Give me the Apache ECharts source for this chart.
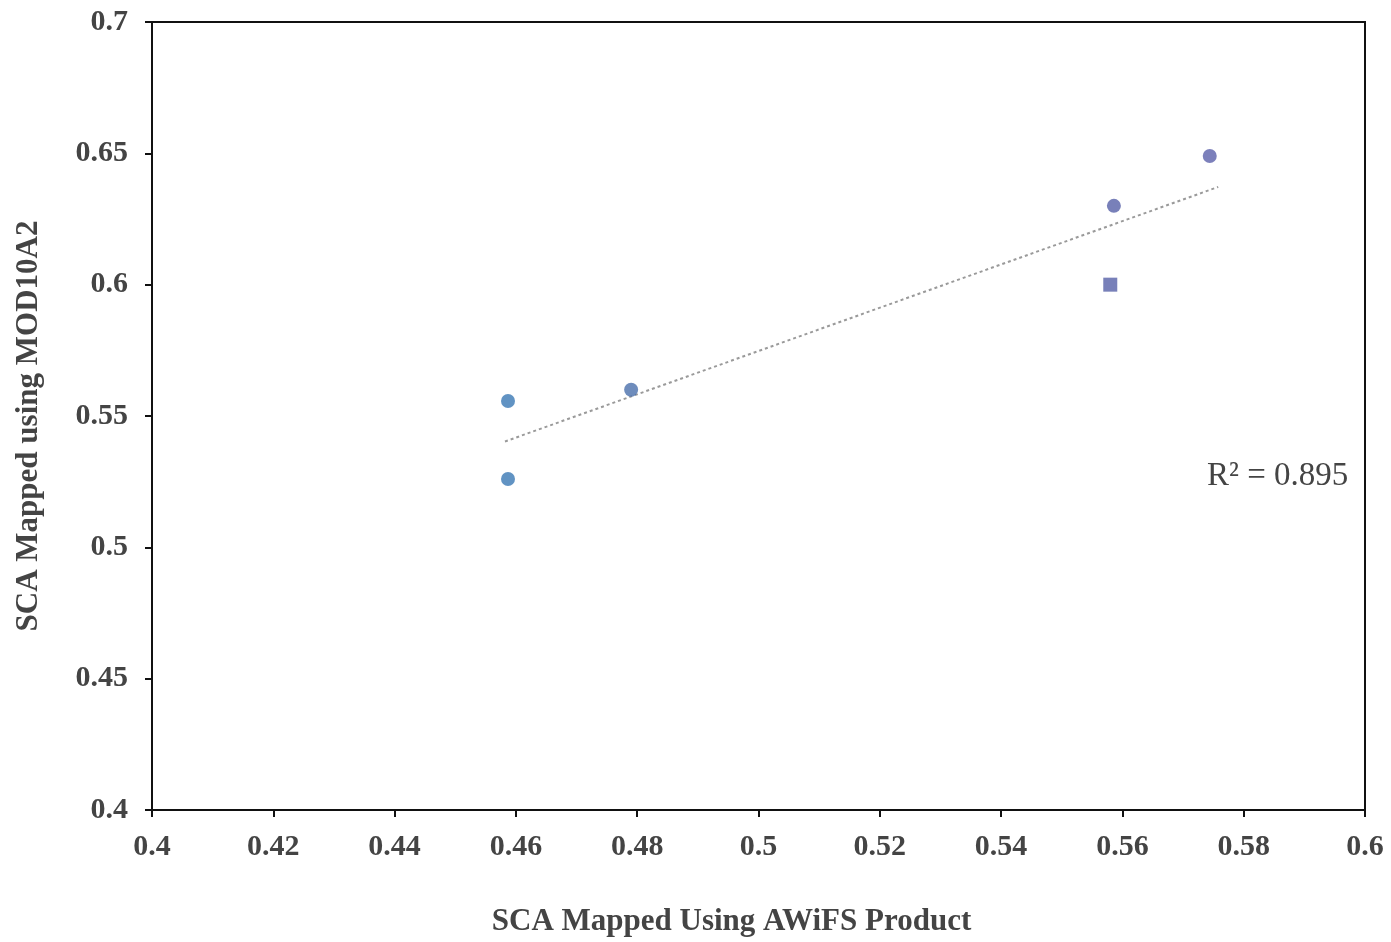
<!DOCTYPE html>
<html>
<head>
<meta charset="utf-8">
<script src="https://cdn.jsdelivr.net/npm/echarts@6/dist/echarts.min.js"></script>
<style>html,body{margin:0;padding:0;background:#fff;}#c{width:1391px;height:942px;}</style>
</head>
<body>
<div id="c"></div>
<script>
var awifs = [0.4587, 0.4587, 0.479, 0.5586, 0.558, 0.5744];
var mod10 = [0.5557, 0.526, 0.560, 0.630, 0.600, 0.649];
var pointColors = ['#3a78b4', '#3a78b4', '#4a6fab', '#5660a8', '#5660a8', '#5b60aa'];
var pointSymbols = ['circle', 'circle', 'circle', 'circle', 'rect', 'circle'];
var trendX = [0.4582, 0.5758];
var trendY = [0.5403, 0.6372];
var r2Label = 'R\u00b2 = 0.895';
var xTitle = 'SCA Mapped Using AWiFS Product';
var yTitle = 'SCA Mapped using MOD10A2';

var font = 'Liberation Serif';
var pts = awifs.map(function (x, i) {
  return { value: [x, mod10[i]], symbol: pointSymbols[i], itemStyle: { color: pointColors[i] } };
});
var trend = trendX.map(function (x, i) { return [x, trendY[i]]; });

var chart = echarts.init(document.getElementById('c'));
chart.setOption({
  backgroundColor: '#fff',
  animation: false,
  grid: { left: 152, right: 26, top: 22, bottom: 130, show: true, borderColor: '#111', borderWidth: 2, backgroundColor: 'transparent' },
  xAxis: {
    type: 'value', min: 0.4, max: 0.6, interval: 0.02,
    name: xTitle, nameLocation: 'middle', nameGap: 96,
    nameTextStyle: { fontFamily: font, fontWeight: 'bold', fontSize: 31, color: '#444', padding: [0, 54, 0, 0] },
    axisLine: { show: true, lineStyle: { color: '#111', width: 2 } },
    axisTick: { show: true, length: 7, lineStyle: { color: '#111', width: 2 } },
    axisLabel: { fontFamily: font, fontWeight: 'bold', fontSize: 30, color: '#444', margin: 22,
      formatter: function (v) { return String(parseFloat(v.toFixed(2))); } },
    splitLine: { show: false }
  },
  yAxis: {
    type: 'value', min: 0.4, max: 0.7, interval: 0.05,
    name: yTitle, nameLocation: 'middle', nameGap: 108,
    nameTextStyle: { fontFamily: font, fontWeight: 'bold', fontSize: 31, color: '#444', padding: [0, 20, 0, 0] },
    axisLine: { show: true, lineStyle: { color: '#111', width: 2 } },
    axisTick: { show: true, length: 7, lineStyle: { color: '#111', width: 2 } },
    axisLabel: { fontFamily: font, fontWeight: 'bold', fontSize: 30, color: '#444', margin: 24,
      formatter: function (v) { return String(parseFloat(v.toFixed(2))); } },
    splitLine: { show: false }
  },
  graphic: [{
    type: 'text', left: 1207, top: 460,
    style: { text: r2Label, fontFamily: font, fontSize: 33, fill: '#444' }
  }],
  series: [{
    type: 'line', data: trend, showSymbol: false, symbol: 'none',
    lineStyle: { color: '#9a9a9a', width: 2, type: [3, 3] }, z: 1, silent: true
  }, {
    type: 'scatter', data: pts, symbolSize: 14, z: 3
  }]
});
</script>
</body>
</html>
